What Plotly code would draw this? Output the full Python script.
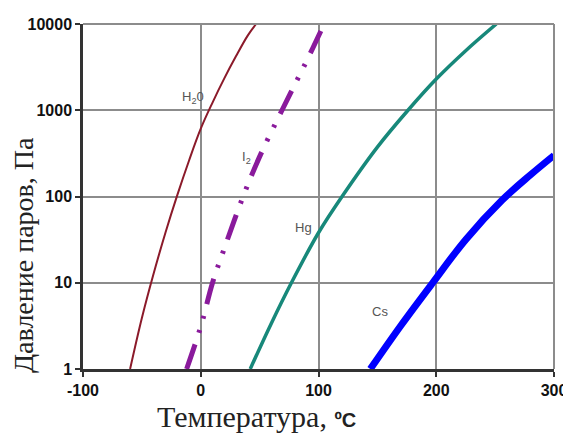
import plotly.graph_objects as go
import math

# Temperatures (°C) and vapour pressures (Pa)
h2o_t = [-60, -50, -40, -30, -20, -10, 0, 10, 20, 30, 40, 47]
h2o_p = [1.0, 3.9, 12.8, 38, 103, 260, 611, 1228, 2339, 4246, 7384, 10000]

i2_t = [-12, 0, 10, 20, 36, 50, 69, 80, 91, 102]
i2_p = [1, 3.1, 10, 25, 100, 290, 1000, 2000, 4000, 8300]

hg_t = [42, 60, 77, 100, 120, 150, 176, 200, 225, 251]
hg_p = [1, 3.4, 10, 38, 100, 374, 1000, 2300, 4900, 10000]

cs_t = [144, 170, 197, 225, 256, 280, 300]
cs_p = [1, 3.2, 10, 31.6, 91, 178, 300]

x_ticks = [-100, 0, 100, 200, 300]
x_tick_labels = ["-100", "0", "100", "200", "300"]
y_ticks = [1, 10, 100, 1000, 10000]
y_tick_labels = ["1", "10", "100", "1000", "10000"]

labels = [
    ("H<sub>2</sub>0", -7, 1400),
    ("I<sub>2</sub>", 39, 280),
    ("Hg", 87, 44),
    ("Cs", 152, 4.7),
]

# page offset (browser body margin)
OFF = 8
L, R, T, B = 83 - OFF, 17 + OFF, 24 - OFF, 70 + OFF
W, H = 571, 439

fig = go.Figure()
fig.add_trace(go.Scatter(x=h2o_t, y=h2o_p, mode="lines", line=dict(color="#8b1a2a", width=2, shape="spline")))
fig.add_trace(go.Scatter(x=i2_t, y=i2_p, mode="lines",
                         line=dict(color="#8a1a9c", width=5, shape="spline", dash="26px,12px,3px,12px,3px,12px")))
fig.add_trace(go.Scatter(x=hg_t, y=hg_p, mode="lines", line=dict(color="#17887a", width=3.5, shape="spline")))
fig.add_trace(go.Scatter(x=cs_t, y=cs_p, mode="lines", line=dict(color="#0000ff", width=7, shape="spline")))

for text, x, y in labels:
    fig.add_annotation(x=x, y=math.log10(y), xref="x", yref="y", text=text, showarrow=False,
                       font=dict(family="Liberation Sans, Arial", size=13, color="#555555"))

pw, ph = W - L - R, H - T - B


def paper(px, py):
    # page pixel -> paper coords
    fx, fy = px - OFF, py - OFF
    return (fx - L) / pw, 1 - (fy - T) / ph


yx, yy = paper(23, 255)
xx, xy = paper(256, 416)
fig.add_annotation(x=yx, y=yy, xref="paper", yref="paper", text="Давление паров, Па", showarrow=False,
                   textangle=-90, xanchor="center", yanchor="middle",
                   font=dict(family="Liberation Serif, Times New Roman", size=28, color="#222222"))
fig.add_annotation(x=xx, y=xy, xref="paper", yref="paper",
                   text="Температура, <span style='font-family:Liberation Sans;font-size:20px;font-weight:bold'>ºC</span>",
                   showarrow=False, xanchor="center", yanchor="middle",
                   font=dict(family="Liberation Serif, Times New Roman", size=30, color="#222222"))

grid = "#8c8c8c"
tickfont = dict(family="Liberation Sans, Arial", size=16, color="#111111", weight="bold")
fig.update_layout(
    width=W, height=H,
    margin=dict(l=L, r=R, t=T, b=B),
    paper_bgcolor="white", plot_bgcolor="white",
    showlegend=False,
    xaxis=dict(range=[-100, 300], tickvals=x_ticks, ticktext=x_tick_labels, showgrid=True, gridcolor=grid,
               gridwidth=1.5, zeroline=False, showline=True, linecolor="#333333", linewidth=2.5,
               ticks="outside", ticklen=5, tickcolor="#333333", tickwidth=2, automargin=False,
               tickfont=tickfont),
    yaxis=dict(type="log", range=[0, 4], tickvals=y_ticks, ticktext=y_tick_labels, showgrid=True,
               gridcolor=grid, gridwidth=1.5, zeroline=False, showline=True, linecolor="#333333",
               linewidth=2.5, ticks="outside", ticklen=5, tickcolor="#333333", tickwidth=2,
               automargin=False, tickfont=tickfont),
)
# top and right frame
fig.add_shape(type="line", xref="paper", yref="paper", x0=0, x1=1, y0=1, y1=1, line=dict(color=grid, width=2))
fig.add_shape(type="line", xref="paper", yref="paper", x0=1, x1=1, y0=0, y1=1, line=dict(color=grid, width=2))

fig.write_html("out.html")
